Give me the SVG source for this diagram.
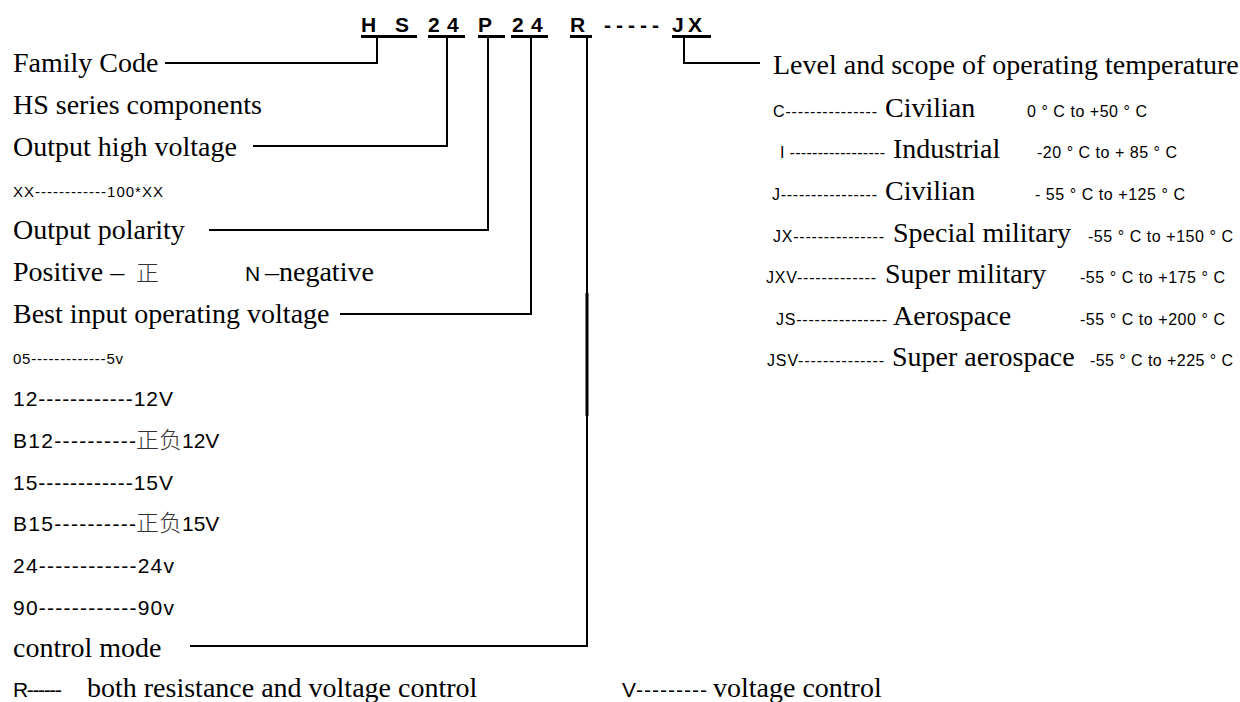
<svg xmlns="http://www.w3.org/2000/svg" width="1240" height="702" viewBox="0 0 1240 702">
<style>
.s{font-family:"Liberation Serif","Times New Roman",serif;font-size:28px;fill:#000}
.a{font-family:"Liberation Sans",Arial,sans-serif;fill:#000}
.m{font-size:21px}
.sm{font-size:15px}
.r{font-size:16px}
.c{font-family:"Noto Sans CJK SC",sans-serif;font-size:23px;fill:#333;font-weight:300}
.t{font-family:"Liberation Sans",Arial,sans-serif;font-size:21px;font-weight:bold;fill:#000}
.u{stroke:#000;stroke-width:3}
.w{fill:none;stroke:#000;stroke-width:2}
</style>
<rect width="1240" height="702" fill="#fff"/>
<g id="title">
<text class="t" y="32"><tspan x="361">H</tspan><tspan x="395">S</tspan><tspan x="428">2</tspan><tspan x="447">4</tspan><tspan x="478">P</tspan><tspan x="512">2</tspan><tspan x="531">4</tspan><tspan x="570">R</tspan><tspan x="604">-</tspan><tspan x="616">-</tspan><tspan x="628">-</tspan><tspan x="640">-</tspan><tspan x="652">-</tspan><tspan x="672">J</tspan><tspan x="688">X</tspan></text>
<line class="u" x1="361" y1="36.5" x2="417" y2="36.5"/>
<line class="u" x1="428" y1="36.5" x2="465" y2="36.5"/>
<line class="u" x1="478" y1="36.5" x2="505" y2="36.5"/>
<line class="u" x1="511" y1="36.5" x2="548" y2="36.5"/>
<line class="u" x1="570" y1="36.5" x2="592" y2="36.5"/>
<line class="u" x1="672" y1="36.5" x2="711" y2="36.5"/>
</g>
<g id="connectors">
<path class="w" d="M377,38 V63 H165"/>
<path class="w" d="M447,38 V146 H253"/>
<path class="w" d="M488,38 V230 H209"/>
<path class="w" d="M531,38 V314 H340"/>
<path class="w" d="M587,38 V646 H190"/>
<line x1="587" y1="293" x2="587" y2="416" stroke="#000" stroke-width="3"/>
<path class="w" d="M684,38 V63 H760"/>
</g>
<g id="family-code"><text class="s" x="13" y="72">Family Code</text><text class="s" x="13" y="114">HS series components</text></g>
<g id="output-high-voltage"><text class="s" x="13" y="156">Output high voltage</text><text class="a sm" x="13" y="197" textLength="150" lengthAdjust="spacing">XX------------100*XX</text></g>
<g id="output-polarity"><text class="s" x="13" y="239">Output polarity</text><text class="s" x="13" y="281">Positive – </text><text class="c" x="136" y="281">正</text><text class="a m" x="245" y="281">N</text><text class="s" x="265" y="281">–negative</text></g>
<g id="best-input-voltage">
<text class="s" x="13" y="323">Best input operating voltage</text>
<text class="a sm" x="13" y="364" textLength="110" lengthAdjust="spacing">05-------------5v</text>
<text class="a m" x="13" y="406" textLength="160" lengthAdjust="spacing">12------------12V</text>
<text class="a m" x="13" y="448" textLength="123" lengthAdjust="spacing">B12----------</text><text class="c" x="136" y="448">正负</text><text class="a m" x="182" y="448">12V</text>
<text class="a m" x="13" y="490" textLength="160" lengthAdjust="spacing">15------------15V</text>
<text class="a m" x="13" y="531" textLength="123" lengthAdjust="spacing">B15----------</text><text class="c" x="136" y="531">正负</text><text class="a m" x="182" y="531">15V</text>
<text class="a m" x="13" y="573" textLength="161" lengthAdjust="spacing">24------------24v</text>
<text class="a m" x="13" y="615" textLength="161" lengthAdjust="spacing">90------------90v</text>
</g>
<g id="control-mode"><text class="s" x="13" y="657">control mode</text><text class="a m" x="13" y="697" textLength="49" lengthAdjust="spacing">R------</text><text class="s" x="87" y="697">both resistance and voltage control</text><text class="a m" x="622" y="697" textLength="85" lengthAdjust="spacing">V---------</text><text class="s" x="713" y="697">voltage control</text></g>
<g id="temperature">
<text class="s" x="773" y="74">Level and scope of operating temperature</text>
<text class="a r" x="773" y="117" textLength="104" lengthAdjust="spacing">C---------------</text><text class="s" x="885" y="117">Civilian</text><text class="a r" x="1027" y="117" textLength="120" lengthAdjust="spacing">0 ° C to +50 ° C</text>
<text class="a r" x="780" y="158" textLength="105" lengthAdjust="spacing">I -----------------</text><text class="s" x="893" y="158">Industrial</text><text class="a r" x="1037" y="158" textLength="140" lengthAdjust="spacing">-20 ° C to + 85 ° C</text>
<text class="a r" x="772" y="200" textLength="105" lengthAdjust="spacing">J----------------</text><text class="s" x="885" y="200">Civilian</text><text class="a r" x="1035" y="200" textLength="150" lengthAdjust="spacing">- 55 ° C to +125 ° C</text>
<text class="a r" x="773" y="242" textLength="111" lengthAdjust="spacing">JX---------------</text><text class="s" x="893" y="242">Special military</text><text class="a r" x="1088" y="242" textLength="145" lengthAdjust="spacing">-55 ° C to +150 ° C</text>
<text class="a r" x="766" y="283" textLength="110" lengthAdjust="spacing">JXV-------------</text><text class="s" x="885" y="283">Super military</text><text class="a r" x="1080" y="283" textLength="145" lengthAdjust="spacing">-55 ° C to +175 ° C</text>
<text class="a r" x="776" y="325" textLength="111" lengthAdjust="spacing">JS---------------</text><text class="s" x="893" y="325">Aerospace</text><text class="a r" x="1080" y="325" textLength="145" lengthAdjust="spacing">-55 ° C to +200 ° C</text>
<text class="a r" x="767" y="366" textLength="117" lengthAdjust="spacing">JSV--------------</text><text class="s" x="892" y="366">Super aerospace</text><text class="a r" x="1090" y="366" textLength="143" lengthAdjust="spacing">-55 ° C to +225 ° C</text>
</g>
</svg>
